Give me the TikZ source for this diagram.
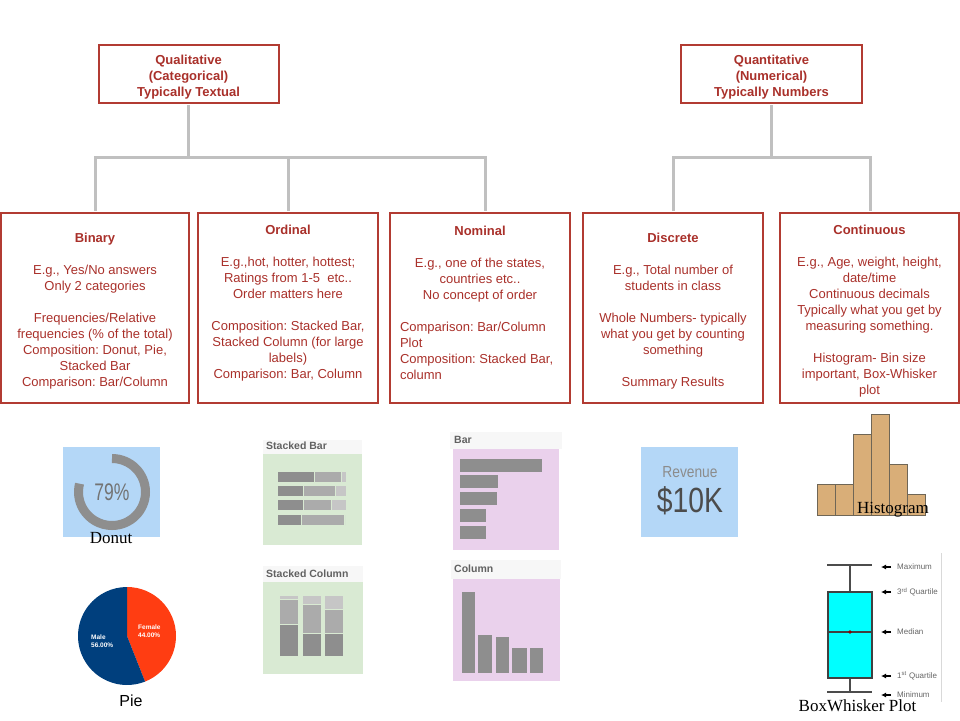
\documentclass[tikz,border=0pt]{standalone}
\usepackage{fontspec}
\setmainfont{Liberation Sans}
\newfontfamily\captionfont{Liberation Serif}
\usetikzlibrary{arrows.meta}
\frenchspacing
\newcommand{\lead}{\rule{0pt}{15pt}}

\definecolor{boxred}{HTML}{B23B32}
\definecolor{textred}{HTML}{A9302A}
\definecolor{linkgray}{HTML}{C0C0C0}
\definecolor{tileblue}{HTML}{B4D7F7}
\definecolor{tilegreen}{HTML}{D9EAD3}
\definecolor{tilepink}{HTML}{EAD1EC}
\definecolor{tilehead}{HTML}{F7F7F7}
\definecolor{bardark}{HTML}{8E8E8E}
\definecolor{barmid}{HTML}{ABABAB}
\definecolor{barlight}{HTML}{C6C6C6}
\definecolor{histtan}{HTML}{D9AE78}
\definecolor{histedge}{HTML}{6F6656}
\definecolor{piered}{HTML}{FF3D12}
\definecolor{pienavy}{HTML}{003F7D}
\definecolor{boxcyan}{HTML}{00FFFF}

\begin{document}
\begin{tikzpicture}[x=1pt, y=-1pt,
  topbox/.style={draw=boxred, line width=2pt, text=textred, minimum width=180pt,
                 minimum height=58pt, align=center,
                 font=\fontsize{13}{16}\selectfont\bfseries},
  catbox/.style={draw=boxred, line width=2pt, text=textred, minimum height=190pt,
                 align=center, inner sep=0pt, font=\fontsize{13}{16}\selectfont},
  link/.style={draw=linkgray, line width=3pt},
  tilehdr/.style={anchor=west, inner sep=0pt, text=black!62,
                  font=\fontsize{10.5}{12}\selectfont\bfseries},
  caption/.style={anchor=base, inner sep=0pt, font=\captionfont\fontsize{17}{20}\selectfont},
  pielabel/.style={anchor=west, align=left, inner sep=0pt, text=white,
                   font=\fontsize{6.5}{8}\selectfont\bfseries},
  boxlabel/.style={anchor=west, inner sep=0pt, text=black!60, font=\fontsize{8}{9}\selectfont},
  marker/.style={-{Latex[length=5pt,width=5pt]}, line width=1.8pt},
  whisker/.style={draw=black!70, line width=1.5pt}
]
  \useasboundingbox (0,0) rectangle (960,720);

  % Top level
  \node[topbox] (qual) at (188.5,74) {\lead Qualitative\\(Categorical)\\Typically Textual};
  \node[topbox, minimum width=181pt] (quant) at (771.5,74) {\lead Quantitative\\(Numerical)\\Typically Numbers};

  % Data types
  \node[catbox, minimum width=188pt] (binary) at (95,308) {\lead\textbf{Binary}\\[16pt]
    E.g., Yes/No answers\\ Only 2 categories\\[16pt]
    Frequencies/Relative\\ frequencies (\% of the total)\\ Composition: Donut, Pie,\\
    Stacked Bar\\ Comparison: Bar/Column};
  \node[catbox, minimum width=180pt] (ordinal) at (288,308) {\lead\textbf{Ordinal}\\[16pt]
    E.g.,hot, hotter, hottest;\\ Ratings from 1-5~ etc..\\ Order matters here\hspace*{30pt}\\[16pt]
    Composition: Stacked Bar,\\ Stacked Column (for large\\ labels)\\
    Comparison: Bar, Column\\[3pt]\mbox{}};
  \node[catbox, minimum width=180pt] (nominal) at (480,308) {\lead\textbf{Nominal}\\[16pt]
    E.g., one of the states,\\ countries etc..\\ No concept of order\hspace*{10pt}\\[16pt]
    \parbox[t]{160pt}{\raggedright Comparison: Bar/Column\\ Plot\\
    Composition: Stacked Bar,\\ column}\\[15pt]\mbox{}};
  \node[catbox, minimum width=180pt] (discrete) at (673,308) {\lead\textbf{Discrete}\\[16pt]
    E.g., Total number of\\ students in class\\[16pt]
    Whole Numbers- typically\\ what you get by counting\\ something\\[16pt]
    Summary Results};
  \node[catbox, minimum width=179pt] (continuous) at (869.5,308) {\lead\textbf{Continuous}\\[16pt]
    E.g., Age, weight, height,\\ date/time\\ Continuous decimals\\
    Typically what you get by\\ measuring something.\\[16pt]
    Histogram- Bin size\\ important, Box-Whisker\\ plot};

  % Tree links
  \draw[link, shorten <=1pt] (qual.south) -- ++(0,55);
  \draw[link, shorten <=1pt, shorten >=1pt] (binary.north) -- ++(0,-55) -| ([xshift=5pt]nominal.north);
  \draw[link, shorten <=1pt] (ordinal.north) -- ++(0,-55);
  \draw[link, shorten <=1pt] (quant.south) -- ++(0,55);
  \draw[link, shorten <=1pt, shorten >=1pt] (discrete.north) -- ++(0,-55) -| ([xshift=0.5pt]continuous.north);

  % Donut
  \fill[tileblue] (63,447) rectangle (160,537);
  \draw[bardark, line width=9pt] (112,492) ++(-90:33.5) arc[start angle=-90, end angle=194.4, radius=33.5];
  \node[text=black!55, font=\fontsize{24}{24}\selectfont] (donutpct) at (112,492) {\scalebox{0.73}[1]{79\%}};
  \node[caption] (donutcap) at (111,543) {Donut};

  % Pie
  \fill[piered] (127,636) -- ++(-90:49) arc[start angle=-90, end angle=68.4, radius=49] -- cycle;
  \fill[pienavy] (127,636) -- ++(68.4:49) arc[start angle=68.4, end angle=270, radius=49] -- cycle;
  \node[pielabel] (femalelbl) at (138,631) {Female\\44.00\%};
  \node[pielabel] (malelbl) at (91,641) {Male\\56.00\%};
  \node[anchor=base, inner sep=0pt, font=\fontsize{16}{18}\selectfont] (piecap) at (131,706) {Pie};

  % Stacked bar
  \fill[tilehead] (263,440) rectangle (362,454);
  \fill[tilegreen] (263,454) rectangle (362,545);
  \node[tilehdr] (sbarhdr) at (266,446) {Stacked Bar};
  \foreach \y/\a/\b/\c in {472/314/341/346, 486/303/335/346, 500/303/331/346, 515/301/344/345} {
    \fill[bardark] (278,\y) rectangle (\a,\y+10);
    \fill[barmid] (\a+1,\y) rectangle (\b,\y+10);
    \fill[barlight] (\b+1,\y) rectangle (\c,\y+10);
  }

  % Stacked column
  \fill[tilehead] (263,566) rectangle (363,582);
  \fill[tilegreen] (263,582) rectangle (363,674);
  \node[tilehdr] (scolhdr) at (266,574) {Stacked Column};
  \foreach \x/\a/\b in {280/599/624, 303/604/633, 325/609/633} {
    \fill[barlight] (\x,596) rectangle (\x+18,\a);
    \fill[barmid] (\x,\a+1) rectangle (\x+18,\b);
    \fill[bardark] (\x,\b+1) rectangle (\x+18,656);
  }

  % Bar
  \fill[tilehead] (450,432) rectangle (562,449);
  \fill[tilepink] (453,449) rectangle (559,550);
  \node[tilehdr] (barhdr) at (454,440) {Bar};
  \foreach \y/\w in {459/542, 475/498, 492/497, 509/486, 526/486}
    \fill[bardark] (460,\y) rectangle (\w,\y+13);

  % Column
  \fill[tilehead] (451,560) rectangle (561,579);
  \fill[tilepink] (453,579) rectangle (560,681);
  \node[tilehdr] (colhdr) at (454,569) {Column};
  \foreach \a/\b/\t in {462/475/592, 478/492/635, 496/509/637, 512/527/648, 530/543/648}
    \fill[bardark] (\a,\t) rectangle (\b,673);

  % Summary number
  \fill[tileblue] (641,447) rectangle (738,537);
  \node[text=black!45, font=\fontsize{16}{16}\selectfont] (revlbl) at (690,472) {\scalebox{0.86}[1]{Revenue}};
  \node[text=black!70, font=\fontsize{35}{35}\selectfont] (revval) at (690,501) {\scalebox{0.81}[1]{\$10K}};

  % Histogram
  \foreach \x/\t in {817/484, 835/484, 853/434, 871/414, 889/464, 907/494}
    \filldraw[fill=histtan, draw=histedge, line width=0.8pt] (\x,\t) rectangle (\x+18,515);
  \node[caption] (histcap) at (893,513) {Histogram};

  % Box and whisker
  \draw[black!15, line width=0.8pt] (941,553) -- (941,702);
  \draw[whisker] (827,565) -- (872,565);
  \draw[whisker] (827,692) -- (872,692);
  \draw[whisker] (850,565) -- (850,592);
  \draw[whisker] (850,678) -- (850,692);
  \filldraw[fill=boxcyan, draw=black!75, line width=1.4pt] (828,592) rectangle (872,678);
  \draw[black!75, line width=1.4pt] (828,632) -- (872,632);
  \fill[red!55!black] (850,632) circle (1.8);
  \foreach \n/\y/\t in {maxlbl/567/Maximum, q3lbl/592/{3\textsuperscript{rd} Quartile},
                        medlbl/632/Median, q1lbl/676/{1\textsuperscript{st} Quartile}, minlbl/695/Minimum} {
    \node[boxlabel] (\n) at (897,\y) {\t};
    \draw[marker] ([xshift=-6pt]\n.west) -- ++(-10,0);
  }
  \node[caption] (boxcap) at (857.5,711) {BoxWhisker Plot};
\end{tikzpicture}
\end{document}
